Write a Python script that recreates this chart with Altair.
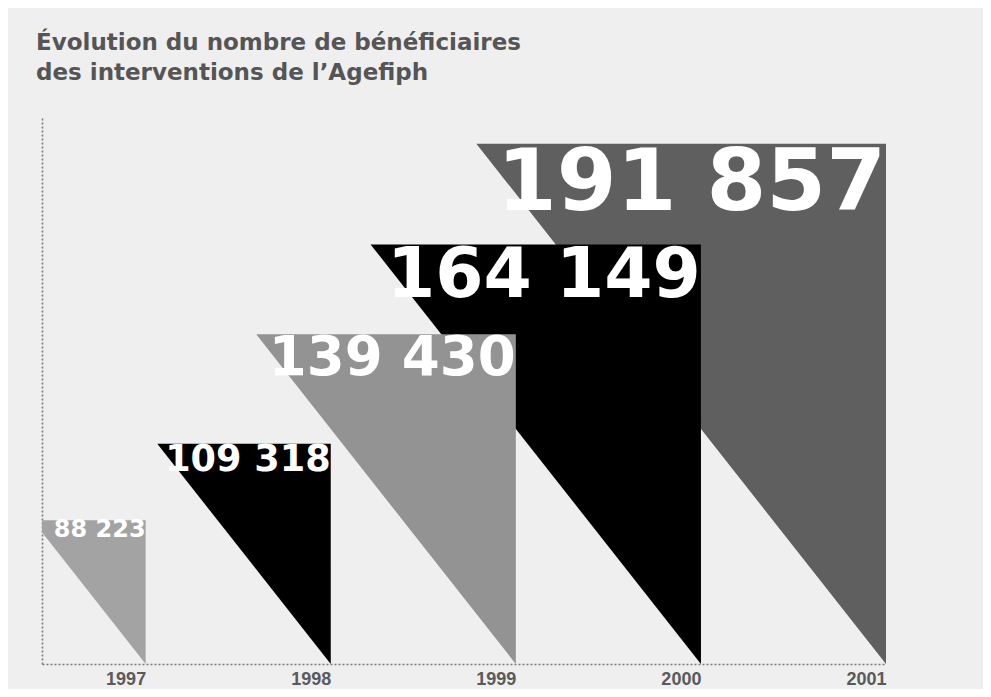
import altair as alt
import pandas as pd

# ---- data ----
years = [1997, 1998, 1999, 2000, 2001]
beneficiaires = [88223, 109318, 139430, 164149, 191857]
fill_colors = ["#a3a3a3", "#000000", "#939393", "#000000", "#5f5f5f"]
title_lines = ["Évolution du nombre de bénéficiaires", "des interventions de l’Agefiph"]

# ---- scale settings ----
Y_DOMAIN = [48700, 199200]
X_DOMAIN = [1996.44, 2001]
SLOPE = 1.546e-5  # years of triangle width per beneficiary of height

rows = []
for yr, v in zip(years, beneficiaires):
    left = yr - (v - Y_DOMAIN[0]) * SLOPE
    rows.append({"year": yr, "x": left, "top": v, "low": v})
    rows.append({"year": yr, "x": yr, "top": v, "low": Y_DOMAIN[0]})
tri = pd.DataFrame(rows)

txt = pd.DataFrame({
    "year": years,
    "value": beneficiaires,
    "label": [f"{v:,}".replace(",", " ") for v in beneficiaires],
})

xs = alt.Scale(domain=X_DOMAIN, nice=False, zero=False)
ys = alt.Scale(domain=Y_DOMAIN, nice=False, zero=False)
dot = dict(domainColor="#7a7a7a", domainDash=[2, 2], domainWidth=1.6)
xaxis = alt.Axis(values=years, format="d", labelAlign="right", labelFont="Liberation Sans",
                 labelFontWeight="bold", labelFontSize=18, labelColor="#5a5a5a",
                 ticks=False, grid=False, labelPadding=6, labelFlush=False,
                 labelOverlap=False, title=None, **dot)
yaxis = alt.Axis(labels=False, ticks=False, grid=False, title=None, **dot)
color = alt.Color("year:O", scale=alt.Scale(domain=years, range=fill_colors), legend=None)

layers = []
for yr in reversed(years):
    layers.append(
        alt.Chart(tri).transform_filter(alt.datum.year == yr)
        .mark_area(clip=True, orient="vertical", opacity=1)
        .encode(
            x=alt.X("x:Q", scale=xs, axis=xaxis),
            y=alt.Y("top:Q", scale=ys, axis=yaxis),
            y2="low:Q",
            color=color,
        )
    )

text = alt.Chart(txt).mark_text(
    align="right", baseline="top", color="white", font="DejaVu Sans",
    fontWeight="bold", dy=-2
).encode(
    x=alt.X("year:Q", scale=xs, axis=xaxis),
    y=alt.Y("value:Q", scale=ys, axis=yaxis),
    text="label:N",
    size=alt.Size("value:Q", scale=alt.Scale(range=[24, 86], zero=False, nice=False), legend=None),
)

chart = alt.layer(*layers, text).properties(
    width=844,
    height=547,
    autosize=alt.AutoSizeParams(type="none"),
    padding={"left": 34, "top": 109, "right": 97, "bottom": 25},
    background="#efefef",
    title=alt.TitleParams(
        text=title_lines, anchor="start", frame="group", font="DejaVu Sans",
        fontSize=23, fontWeight="bold", color="#555555", lineHeight=30,
        offset=32, dx=-6,
    ),
).configure_view(stroke=None)

chart.save("out.html", embed_options={"renderer": "svg", "actions": False})
